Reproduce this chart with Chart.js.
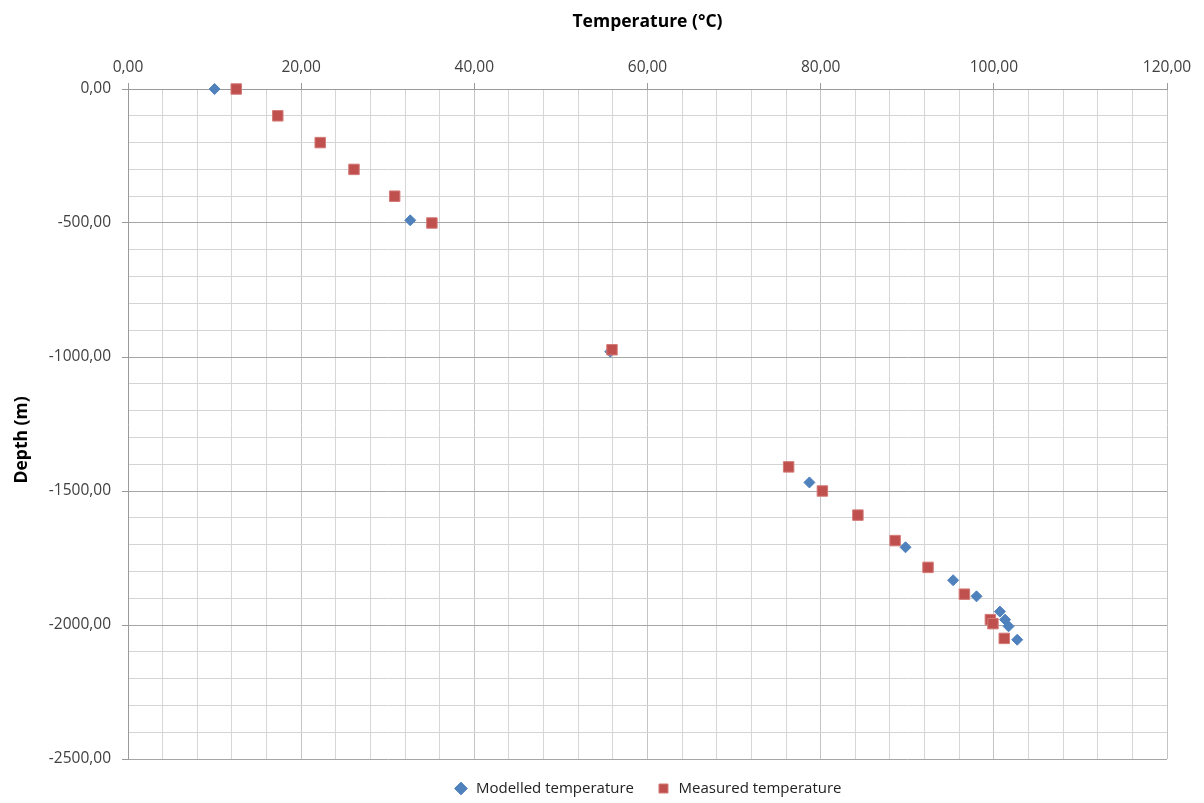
<!DOCTYPE html>
<html>
<head>
<meta charset="utf-8">
<title>Temperature vs depth</title>
<script src="https://cdn.jsdelivr.net/npm/chart.js@4/dist/chart.umd.min.js"></script>
<style>
  html, body { margin: 0; padding: 0; background: #fff; }
  #wrap { width: 1204px; height: 803px; position: relative; }
</style>
</head>
<body>
<div id="wrap"><canvas id="myChart"></canvas></div>
<script>
// well data: temperature (°C) against depth (m, negative downwards)
const modelledTemp = [10.0, 32.6, 55.7, 78.7, 89.8, 95.3, 98.0, 100.7, 101.3, 101.7, 102.7];
const modelledDepth = [0, -490, -980, -1468, -1710, -1833, -1893, -1950, -1980, -2005, -2055];

const measuredTemp = [12.5, 17.3, 22.2, 26.1, 30.8, 35.1, 55.9, 76.3, 80.2, 84.3, 88.6, 92.4, 96.6, 99.6, 99.9, 101.2];
const measuredDepth = [0, -100, -200, -300, -400, -500, -973, -1410, -1500, -1590, -1685, -1785, -1885, -1980, -1995, -2050];

const seriesNames = ['Modelled temperature', 'Measured temperature'];

const constValues = {
  FONT: "'Open Sans', 'Liberation Sans', sans-serif",
  TEXT_COLOR: '#404040',
  BLUE: '#4f81bd',
  RED: '#c0504d',
  X_MIN: 0, X_MAX: 120, X_STEP: 4, X_MAJOR: 20,
  Y_MIN: -2500, Y_MAX: 0, Y_STEP: 100, Y_MAJOR: 500
};

function toPoints(xs, ys) {
  return xs.map((x, i) => ({ x, y: ys[i] }));
}

function formatNumber(v) {
  return v.toFixed(2).replace('.', ',');
}

function isMajor(value, major) {
  return Math.abs(value % major) < 1e-6;
}

// legend box is stretched so its row sits lower under the plot
const legendHeight = {
  id: 'legendHeight',
  beforeLayout(chart) {
    const lg = chart.legend;
    if (lg && !lg._stretched) {
      const fit = lg.fit.bind(lg);
      lg.fit = function () { fit(); this.height = 44; };
      lg._stretched = true;
    }
  }
};

function getData() {
  return {
    datasets: [{
      label: seriesNames[0],
      data: toPoints(modelledTemp, modelledDepth),
      pointStyle: 'rectRot',
      pointRadius: 5.5,
      pointHoverRadius: 5.5,
      backgroundColor: constValues.BLUE,
      borderColor: constValues.BLUE,
      borderWidth: 1,
      clip: false,
      order: 1
    }, {
      label: seriesNames[1],
      data: toPoints(measuredTemp, measuredDepth),
      pointStyle: 'rect',
      pointRadius: 7.4,
      pointHoverRadius: 7.4,
      backgroundColor: constValues.RED,
      borderColor: '#d27a77',
      borderWidth: 1,
      clip: false,
      order: 0
    }]
  };
}

function getOptions() {
  const tickFont = { family: constValues.FONT, size: 15.5 };
  const titleFont = { family: constValues.FONT, size: 17.5, weight: 'bold' };
  return {
    responsive: true,
    maintainAspectRatio: false,
    animation: false,
    layout: { padding: { top: 10, left: 10, right: 37, bottom: 0 } },
    plugins: {
      title: { display: false },
      tooltip: { enabled: false },
      legend: {
        position: 'bottom',
        fullSize: false,
        labels: {
          usePointStyle: true,
          boxHeight: 9,
          padding: 22,
          color: '#222',
          font: { family: constValues.FONT, size: 15 },
          sort: (a, b) => a.datasetIndex - b.datasetIndex
        }
      }
    },
    scales: {
      x: {
        type: 'linear',
        position: 'top',
        min: constValues.X_MIN,
        max: constValues.X_MAX,
        afterFit(scale) { scale.height = 79; },
        ticks: {
          stepSize: constValues.X_STEP,
          autoSkip: false,
          maxRotation: 0,
          padding: 6,
          color: constValues.TEXT_COLOR,
          font: tickFont,
          callback: v => isMajor(v, constValues.X_MAJOR) ? formatNumber(v) : ''
        },
        grid: {
          tickLength: 6,
          color: ctx => isMajor(ctx.tick.value, constValues.X_MAJOR) ? '#c4c4c4' : '#d6d6d6',
          tickColor: ctx => isMajor(ctx.tick.value, constValues.X_MAJOR) ? '#9a9a9a' : 'rgba(0,0,0,0)'
        },
        border: { color: '#9a9a9a' },
        title: {
          display: true,
          text: 'Temperature (°C)',
          color: '#000',
          font: titleFont,
          padding: { top: 2, bottom: 4 }
        }
      },
      y: {
        type: 'linear',
        min: constValues.Y_MIN,
        max: constValues.Y_MAX,
        afterFit(scale) { scale.width = 118; },
        ticks: {
          stepSize: constValues.Y_STEP,
          autoSkip: false,
          padding: 11,
          color: constValues.TEXT_COLOR,
          font: tickFont,
          callback: v => isMajor(v, constValues.Y_MAJOR) ? formatNumber(v) : ''
        },
        grid: {
          tickLength: 6,
          color: ctx => isMajor(ctx.tick.value, constValues.Y_MAJOR) ? '#a6a6a6' : '#d4d4d4',
          tickColor: ctx => isMajor(ctx.tick.value, constValues.Y_MAJOR) ? '#9a9a9a' : 'rgba(0,0,0,0)'
        },
        border: { color: '#9a9a9a' },
        title: {
          display: true,
          // trailing spaces nudge the rotated label a little lower
          text: 'Depth (m)       ',
          color: '#000',
          font: titleFont,
          padding: { top: 2, bottom: 4 }
        }
      }
    }
  };
}

function initChart() {
  const ctx = document.getElementById('myChart');
  new Chart(ctx, {
    type: 'scatter',
    data: getData(),
    options: getOptions(),
    plugins: [legendHeight]
  });
}

initChart();
</script>
</body>
</html>
